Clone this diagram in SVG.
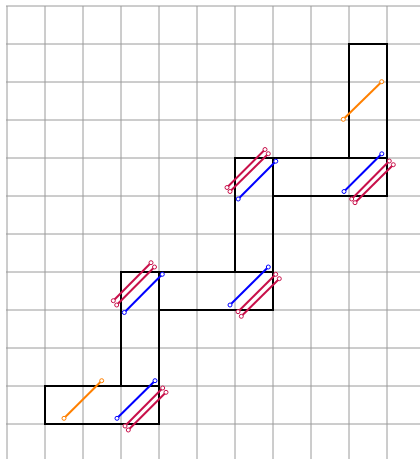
<svg xmlns="http://www.w3.org/2000/svg" width="420" height="459" viewBox="0 0 420 459">
<style>
.grid line{stroke:#9a9a9a;stroke-width:1}
.box{fill:none;stroke:#000;stroke-width:2}
.o{stroke:#ff8000;stroke-width:2;fill:none;marker-start:url(#mo);marker-end:url(#mo)}
.b{stroke:#0000ff;stroke-width:2;fill:none;marker-start:url(#mb);marker-end:url(#mb)}
.r{stroke:#c8104a;stroke-width:2;fill:none;marker-start:url(#mr);marker-end:url(#mr)}
</style>
<defs>
<marker id="mo" markerUnits="userSpaceOnUse" viewBox="-4 -4 8 8" refX="0" refY="0" markerWidth="8" markerHeight="8" overflow="visible"><circle r="2" fill="#fff" stroke="#ff8000" stroke-width="1"/></marker>
<marker id="mb" markerUnits="userSpaceOnUse" viewBox="-4 -4 8 8" refX="0" refY="0" markerWidth="8" markerHeight="8" overflow="visible"><circle r="2" fill="#fff" stroke="#0000ff" stroke-width="1"/></marker>
<marker id="mr" markerUnits="userSpaceOnUse" viewBox="-4 -4 8 8" refX="0" refY="0" markerWidth="8" markerHeight="8" overflow="visible"><circle r="2" fill="#fff" stroke="#c8104a" stroke-width="1"/></marker>
</defs>
<rect width="420" height="459" fill="#fff"/>
<g class="grid" id="grid">
<line x1="7" y1="6" x2="7" y2="459"/><line x1="45" y1="6" x2="45" y2="459"/><line x1="83" y1="6" x2="83" y2="459"/><line x1="121" y1="6" x2="121" y2="459"/><line x1="159" y1="6" x2="159" y2="459"/><line x1="197" y1="6" x2="197" y2="459"/><line x1="235" y1="6" x2="235" y2="459"/><line x1="273" y1="6" x2="273" y2="459"/><line x1="311" y1="6" x2="311" y2="459"/><line x1="349" y1="6" x2="349" y2="459"/><line x1="387" y1="6" x2="387" y2="459"/>
<line x1="6" y1="6" x2="420" y2="6"/><line x1="6" y1="44" x2="420" y2="44"/><line x1="6" y1="82" x2="420" y2="82"/><line x1="6" y1="120" x2="420" y2="120"/><line x1="6" y1="158" x2="420" y2="158"/><line x1="6" y1="196" x2="420" y2="196"/><line x1="6" y1="234" x2="420" y2="234"/><line x1="6" y1="272" x2="420" y2="272"/><line x1="6" y1="310" x2="420" y2="310"/><line x1="6" y1="348" x2="420" y2="348"/><line x1="6" y1="386" x2="420" y2="386"/><line x1="6" y1="424" x2="420" y2="424"/>
</g>
<g id="pieces">
<rect id="h1" class="box" x="45" y="386" width="114" height="38"/>
<rect id="v1" class="box" x="121" y="272" width="38" height="114"/>
<rect id="h2" class="box" x="159" y="272" width="114" height="38"/>
<rect id="v2" class="box" x="235" y="158" width="38" height="114"/>
<rect id="h3" class="box" x="273" y="158" width="114" height="38"/>
<rect id="v3" class="box" x="349" y="44" width="38" height="114"/>
</g>
<g id="connectors">
<line class="o" x1="343.3" y1="119.3" x2="381.7" y2="81.7"/>
<line class="o" x1="64" y1="418.3" x2="101.7" y2="380.7"/>
<line class="b" x1="117" y1="418.3" x2="155" y2="380.7"/>
<line class="b" x1="124.3" y1="312.5" x2="162.3" y2="274.3"/>
<line class="b" x1="230" y1="305" x2="268.3" y2="267"/>
<line class="b" x1="238.2" y1="199" x2="275.8" y2="161.2"/>
<line class="b" x1="344" y1="191.5" x2="381.8" y2="153.8"/>
<line class="r" x1="125" y1="426" x2="162.7" y2="388"/>
<line class="r" x1="128.3" y1="430" x2="166" y2="392.3"/>
<line class="r" x1="113.3" y1="300.7" x2="151" y2="262.7"/>
<line class="r" x1="116.7" y1="305" x2="154.5" y2="267"/>
<line class="r" x1="238" y1="311.7" x2="275.7" y2="274.3"/>
<line class="r" x1="241.3" y1="316.3" x2="279.3" y2="278.7"/>
<line class="r" x1="227" y1="187.5" x2="265" y2="149.5"/>
<line class="r" x1="230" y1="191.5" x2="268.3" y2="153.7"/>
<line class="r" x1="351.7" y1="199" x2="389.3" y2="161"/>
<line class="r" x1="355" y1="202.7" x2="393.3" y2="164.7"/>
</g>
</svg>
